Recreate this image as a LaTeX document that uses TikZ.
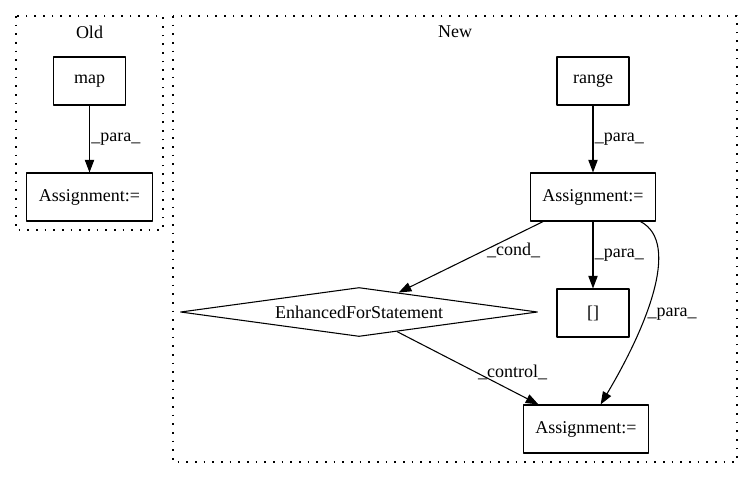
\documentclass[tikz,border=0pt]{standalone}
\usepackage{fontspec}
\setmainfont{Liberation Serif}
\usetikzlibrary{arrows.meta,shapes.geometric}
\begin{document}
\begin{tikzpicture}[x=0.75pt,y=-0.75pt,>={Triangle[length=9.5pt,width=7pt]}, font=\fontsize{13.5}{15}\selectfont, line join=round, line width=0.8pt,
	box/.style={draw,minimum width=54pt,minimum height=36pt,inner sep=0pt},
	widebox/.style={box,minimum width=94pt},
	cluster/.style={dash pattern=on 1.2pt off 5.3pt},
	lbl/.style={inner sep=1pt}]
	\useasboundingbox (0,0) rectangle (753,480);
	\path
	(16,16) coordinate (O1)
	(163,230) coordinate (O2)
	(173,16) coordinate (N1)
	(737,462) coordinate (N2)
	;
	% clusters
	\draw[cluster] (O1) rectangle (O2);
	\draw[cluster] (N1) rectangle (N2);
	\node (oldlbl) at (89.5,32) {Old};
	\node (newlbl) at (455,32) {New};
	% nodes
	\node[box] (map) at (89.5,81) {map};
	\node[widebox] (oldassign) at (89.5,197) {Assignment:=};
	\node[box] (range) at (593,81) {range};
	\node[widebox] (newassign) at (593,197) {Assignment:=};
	\node[draw,diamond,aspect=7.3,minimum width=267.75pt,minimum height=36.75pt,inner sep=0pt] (efs) at (359,312) {EnhancedForStatement};
	\node[box] (idx) at (593,313) {[]};
	\node[widebox] (assign2) at (586,429) {Assignment:=};
	% edges
	\foreach \a/\b in {map/oldassign,range/newassign,newassign/idx}
	\draw[->] (\a)--(\b) node[lbl,midway,right]{\_para\_};
	\draw[->] (newassign)--(efs) node[lbl,pos=0.4,right]{\_cond\_};
	\draw[->] (efs)--(assign2) node[lbl,pos=0.56,right]{\_control\_};
	\draw[->] (newassign) .. controls (682,243) and (645,330) .. (assign2) node[lbl,pos=0.6,right]{\_para\_};
\end{tikzpicture}
\end{document}
